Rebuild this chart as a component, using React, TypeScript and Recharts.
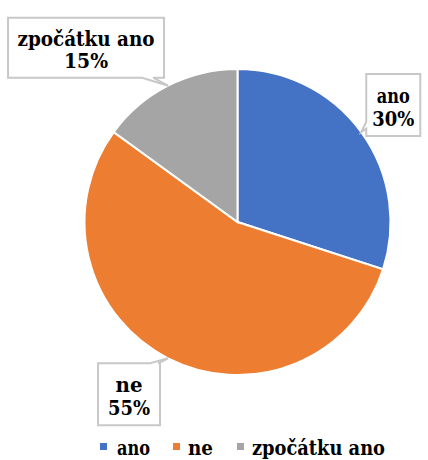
import React from "react";
import { PieChart, Pie, Cell, Legend } from "recharts";

const categories = ["ano", "ne", "zpočátku ano"];
const values = [30, 55, 15];
const percentLabels = ["30%", "55%", "15%"];
const colors = ["#4472C4", "#ED7D31", "#A5A5A5"];

const data = categories.map((name, i) => ({ name, value: values[i] }));

// callout layout: box centre offset from slice-edge tip, box size, notch edge/position, text widths
const callouts = [
  { dx: 32, dy: -27, w: 54, h: 62, edge: "left", n0: 0.77, n1: 0.88, tw1: 33, tw2: 42 },
  { dx: -39, dy: 36, w: 62, h: 62, edge: "top", n0: 0.84, n1: 0.97, tw1: 27, tw2: 42 },
  { dx: -82, dy: -38, w: 156, h: 60, edge: "bottom", n0: 0.86, n1: 0.93, tw1: 137, tw2: 44 },
];

// legend layout: square x, text x, text width
const legendLayout = [
  { sx: 100, tx: 117, tw: 33 },
  { sx: 173, tx: 188, tw: 25 },
  { sx: 237, tx: 252, tw: 133 },
];

const RAD = Math.PI / 180;
const FONT = "DejaVu Serif";

function calloutPath(x: number, y: number, w: number, h: number, tx: number, ty: number, edge: string, n0: number, n1: number) {
  const r = x + w;
  const b = y + h;
  if (edge === "left") {
    const a = y + h * n0, c = y + h * n1;
    return `M${x},${y} L${r},${y} L${r},${b} L${x},${b} L${x},${c} L${tx},${ty} L${x},${a} Z`;
  }
  if (edge === "top") {
    const a = x + w * n0, c = x + w * n1;
    return `M${x},${y} L${a},${y} L${tx},${ty} L${c},${y} L${r},${y} L${r},${b} L${x},${b} Z`;
  }
  const a = x + w * n0, c = x + w * n1;
  return `M${x},${y} L${r},${y} L${r},${b} L${c},${b} L${tx},${ty} L${a},${b} L${x},${b} Z`;
}

const textStyle = { fontFamily: FONT, fontWeight: 700, fontSize: 20 } as const;

const renderLabel = (props: any) => {
  const { cx, cy, midAngle, outerRadius, index } = props;
  const tx = cx + outerRadius * Math.cos(-midAngle * RAD);
  const ty = cy + outerRadius * Math.sin(-midAngle * RAD);
  const c = callouts[index];
  const bx = tx + c.dx;
  const by = ty + c.dy;
  const x = bx - c.w / 2;
  const y = by - c.h / 2;
  return (
    <g key={`lbl-${index}`}>
      <path d={calloutPath(x, y, c.w, c.h, tx, ty, c.edge, c.n0, c.n1)} fill="#fff" stroke="#C8C8C8" strokeWidth={2} />
      <text x={bx - c.tw1 / 2} y={by - 2} fill="#000" style={textStyle} textLength={c.tw1} lengthAdjust="spacingAndGlyphs">
        {categories[index]}
      </text>
      <text x={bx - c.tw2 / 2} y={by + 20.5} fill="#000" style={textStyle} textLength={c.tw2} lengthAdjust="spacingAndGlyphs">
        {percentLabels[index]}
      </text>
    </g>
  );
};

const renderLegend = () => (
  <svg width={428} height={30} style={{ display: "block" }}>
    {categories.map((name, i) => {
      const l = legendLayout[i];
      return (
        <g key={name}>
          <rect x={l.sx} y={13} width={7} height={7} fill={colors[i]} />
          <text x={l.tx} y={25} fill="#000" style={textStyle} textLength={l.tw} lengthAdjust="spacingAndGlyphs">
            {name}
          </text>
        </g>
      );
    })}
  </svg>
);

export default function App() {
  return (
    <div style={{ position: "absolute", left: 0, top: 0, width: 428, height: 460, background: "#fff" }}>
      <PieChart width={428} height={460} margin={{ top: 0, right: 0, bottom: 0, left: 0 }}>
        <Pie
          data={data}
          dataKey="value"
          nameKey="name"
          cx={237.5}
          cy={222}
          outerRadius={153}
          startAngle={90}
          endAngle={-270}
          stroke="#fff"
          strokeWidth={2}
          isAnimationActive={false}
          label={renderLabel}
          labelLine={false}
        >
          {data.map((d, i) => (
            <Cell key={d.name} fill={colors[i]} />
          ))}
        </Pie>
        <Legend content={renderLegend} wrapperStyle={{ position: "absolute", top: 430, left: 0, width: 428 }} />
      </PieChart>
    </div>
  );
}
